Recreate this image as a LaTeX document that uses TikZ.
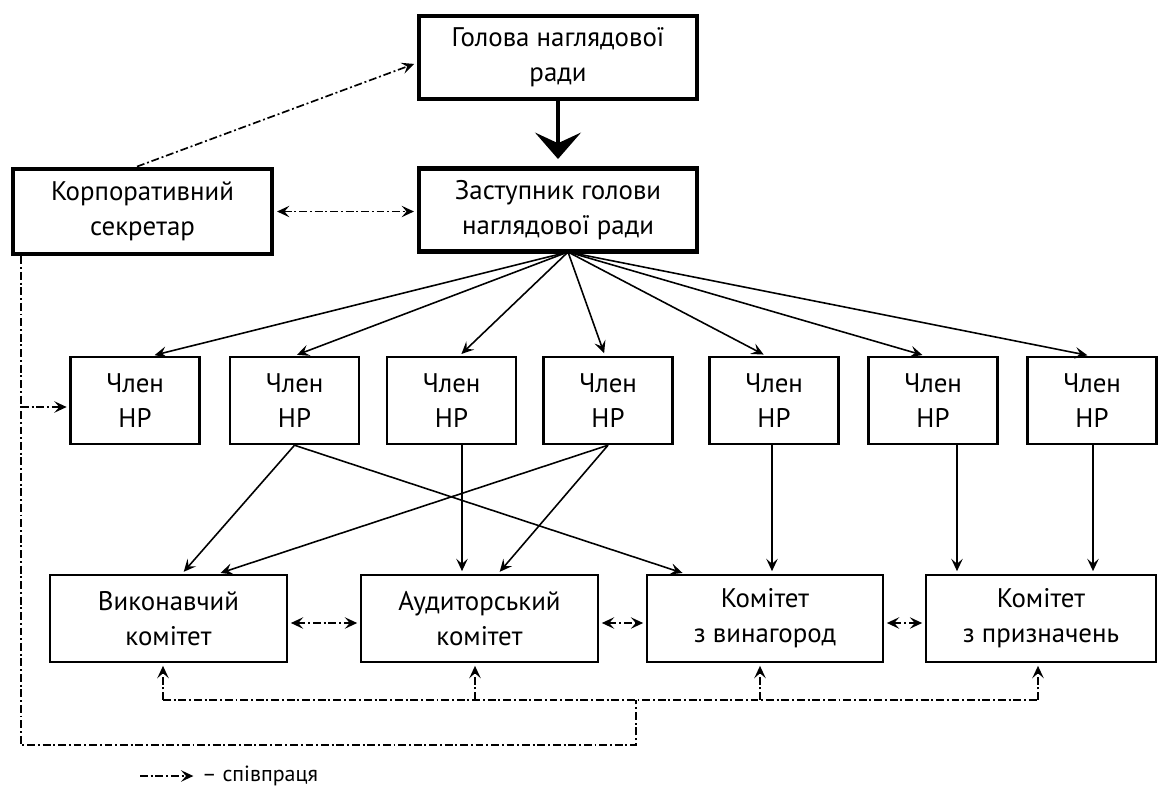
\documentclass[tikz,border=0pt]{standalone}
\usepackage{fontspec}
\setmainfont{PT Sans}
\usetikzlibrary{arrows.meta,
                positioning}
\tikzset{board/.style=
   {rectangle,
    draw,
    line width=2.8pt,
    align=center,
    inner sep=0pt,
    minimum width=5.56cm,
    minimum height=1.66cm,
    font=\fontsize{15.3}{20}\selectfont}}
\tikzset{member/.style=
   {rectangle,
    draw,
    line width=1.4pt,
    align=center,
    inner sep=0pt,
    minimum width=2.58cm,
    minimum height=1.74cm,
    font=\fontsize{15.3}{20}\selectfont}}
\tikzset{committee/.style=
   {rectangle,
    draw,
    line width=1.4pt,
    align=center,
    inner sep=0pt,
    minimum width=4.74cm,
    minimum height=1.74cm,
    font=\fontsize{15.3}{20}\selectfont}}
\tikzset{arrow/.style = {draw, line width=0.9pt, shorten >=1.5pt,
    -{Stealth[length=7pt,width=6.5pt,inset=2.8pt]}}}
\tikzset{coop/.style = {draw, line width=0.95pt,
    dash pattern=on 4.5pt off 1.6pt on 1.1pt off 1.6pt}}
\tikzset{coop-arrow/.style = {coop, shorten >=1.5pt,
    -{Stealth[length=7pt,width=6.5pt,inset=2.8pt]}}}
\tikzset{coop-both/.style = {coop, shorten >=1.5pt, shorten <=1.5pt,
    {Stealth[length=7pt,width=6.5pt,inset=2.8pt]}-{Stealth[length=7pt,width=6.5pt,inset=2.8pt]}}}

\begin{document}
\begin{tikzpicture}[x=0.02cm, y=-0.02cm]
    \useasboundingbox (0,0) rectangle (1158,785);

    % top of the board
    \node [board] (head) at (558,57.5) {Голова наглядової\\ради};
    \node [board] (deputy) at (558,210) {Заступник голови\\наглядової ради};
    \node [board,
           minimum width=5.18cm,
           minimum height=1.7cm] (secretary) at (142.5,211.5)
    {Корпоративний\\секретар};

    % members
    \foreach \x [count=\i] in {135,294.5,451.5,608,774,933,1092}
        \node [member] (m\i) at (\x,400.5) {Член\\НР};

    % committees
    \node [committee] (exec) at (168.5,618.5) {Виконавчий\\комітет};
    \node [committee] (audit) at (479.5,618.5) {Аудиторський\\комітет};
    \node [committee,
           minimum width=4.72cm] (reward) at (765,618.5) {Комітет\\з винагород};
    \node [committee,
           minimum width=4.6cm] (nomin) at (1041,618.5) {Комітет\\з призначень};

    \draw [line width=2.8pt, shorten >=4pt,
           -{Stealth[length=15pt,width=26pt,inset=6pt]}] (head.south) -- (deputy.north);

    % deputy to members
    \coordinate (fan) at (568,252);
    \foreach \i/\s in {1/17,2/0,3/8,4/-3,5/-8,6/-8,7/-2}
        \draw [arrow] (fan) -- ([xshift=\s*0.02cm]m\i.north);

    % members to committees
    \coordinate (s3) at (462,444);
    \coordinate (s5) at (772,444);
    \coordinate (s6) at (957,444);
    \coordinate (s7) at (1093,444);
    \draw [arrow] (m2.south) -- ([xshift=0.27cm]exec.north);
    \draw [arrow] (m2.south) -- ([xshift=-1.6cm]reward.north);
    \draw [arrow] (m4.south) -- ([xshift=0.99cm]exec.north);
    \draw [arrow] (m4.south) -- ([xshift=0.37cm]audit.north);
    \draw [arrow] (s3) -- (s3 |- audit.north);
    \draw [arrow] (s5) -- (s5 |- reward.north);
    \draw [arrow] (s6) -- (s6 |- nomin.north);
    \draw [arrow] (s7) -- (s7 |- nomin.north);

    % cooperation
    \draw [coop-arrow] ([xshift=-0.11cm]secretary.north) -- ([yshift=-0.11cm]head.west);
    \draw [coop-both] (secretary.east) -- (secretary.east -| deputy.west);
    \draw [coop-both] ([yshift=-0.09cm]exec.east) -- ([yshift=-0.09cm]audit.west);
    \draw [coop-both] ([yshift=-0.09cm]audit.east) -- ([yshift=-0.09cm]reward.west);
    \draw [coop-both] ([yshift=-0.09cm]reward.east) -- ([yshift=-0.09cm]nomin.west);

    \coordinate (bus1) at (163,700);
    \coordinate (bus2) at (475,700);
    \coordinate (bus3) at (760,700);
    \coordinate (bus4) at (1038,700);
    \coordinate (junction) at (636,745);
    \coordinate (rail) at (21,745);
    \coordinate (branch) at (21,407);
    \draw [coop] (bus1) -- (bus4);
    \draw [coop-arrow] (bus1) -- (bus1 |- exec.south);
    \draw [coop-arrow] (bus2) -- (bus2 |- audit.south);
    \draw [coop-arrow] (bus3) -- (bus3 |- reward.south);
    \draw [coop-arrow] (bus4) -- (bus4 |- nomin.south);
    \draw [coop] (secretary.south -| rail) -- (rail) -- (junction) -- (junction |- bus1);
    \draw [coop-arrow] (branch) -- (branch -| m1.west);

    % legend
    \coordinate (legend-start) at (140,776);
    \node [anchor=west,
           font=\fontsize{12.5}{14}\selectfont] (legend) at (196,776) {– співпраця};
    \draw [coop-arrow] (legend-start) -- (legend.west);

\end{tikzpicture}
\end{document}
